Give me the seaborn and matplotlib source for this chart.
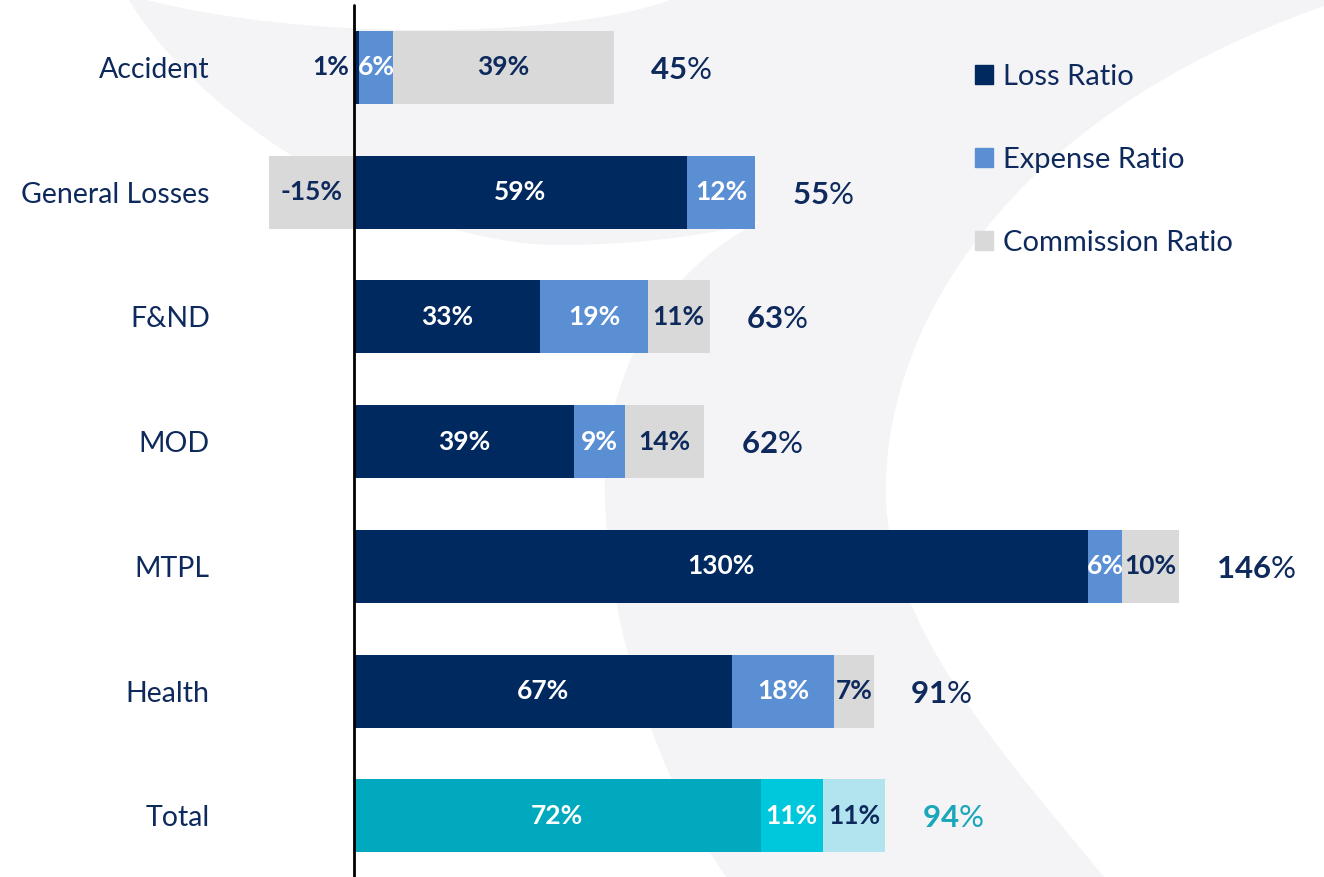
import matplotlib
matplotlib.use("Agg")
import matplotlib.pyplot as plt
import seaborn as sns
import numpy as np
import pandas as pd
from matplotlib.patches import Patch, PathPatch
from matplotlib.path import Path

categories = ["Accident", "General Losses", "F&ND", "MOD", "MTPL", "Health", "Total"]
loss_ratio = [1, 59, 33, 39, 130, 67, 72]
expense_ratio = [6, 12, 19, 9, 6, 18, 11]
commission_ratio = [39, -15, 11, 14, 10, 7, 11]
combined_ratio = [45, 55, 63, 62, 146, 91, 94]

TEXT = "#0e2a5c"
c_loss = ["#002960"] * 6 + ["#00a9bd"]
c_exp = ["#5b8fd4"] * 6 + ["#00c8dc"]
c_com = ["#d9d9d9"] * 6 + ["#b1e4ee"]

sns.set_theme(style="white")
plt.rcParams["font.family"] = ["Lato", "DejaVu Sans"]
plt.rcParams["mathtext.fontset"] = "custom"
plt.rcParams["mathtext.bf"] = "Lato:bold"
plt.rcParams["mathtext.rm"] = "Lato"

W, H = 1324, 877
fig = plt.figure(figsize=(W / 100, H / 100), dpi=100)
fig.patch.set_facecolor("white")

# faint decorative background swoosh (watermark), pixel coords
M, L, C = Path.MOVETO, Path.LINETO, Path.CURVE4
segs = [
    (M, [(129, 0)]),
    (C, [(200, 120), (400, 245), (560, 245)]),
    (C, [(650, 245), (720, 232), (760, 222)]),
    (C, [(660, 270), (600, 380), (605, 500)]),
    (C, [(610, 640), (660, 780), (726, 877)]),
    (L, [(1104, 877)]),
    (C, [(1000, 750), (880, 620), (886, 480)]),
    (C, [(890, 330), (1000, 120), (1324, 6)]),
    (L, [(1324, 0)]),
    (L, [(670, 0)]),
    (C, [(560, 40), (300, 40), (147, 0)]),
    (L, [(129, 0)]),
]
verts, codes = [], []
for code, pts in segs:
    for p in pts:
        verts.append((p[0] / W, 1 - p[1] / H))
        codes.append(code)
swoosh = PathPatch(Path(verts, codes), transform=fig.transFigure,
                   facecolor="#f4f4f6", edgecolor="none", zorder=-5)
fig.patches.append(swoosh)

ax = fig.add_axes([230 / W, 0, 1 - 230 / W, 1])
ax.set_facecolor("none")

loss = np.array(loss_ratio, float)
exp_ = np.array(expense_ratio, float)
com = np.array(commission_ratio, float)
lay2 = loss + exp_
lay3 = np.where(com > 0, lay2 + com, com)

df = pd.DataFrame({"cat": categories, "l1": loss, "l2": lay2, "l3": lay3})
bw = 0.585
for col, pal in [("l3", c_com), ("l2", c_exp), ("l1", c_loss)]:
    sns.barplot(data=df, x=col, y="cat", hue="cat", palette=pal, legend=False,
                orient="h", width=bw, saturation=1, ax=ax, linewidth=0)

ax.set_xlim(-21.9, 171.7)
ax.set_ylim(6.49, -0.54)
ax.axvline(0, ymin=0, ymax=1 - 5 / H, color="black", lw=2, zorder=5)
for s in ax.spines.values():
    s.set_visible(False)
ax.set_xticks([])
ax.set_xlabel("")
ax.set_ylabel("")
ax.tick_params(axis="y", length=0, pad=14.5, labelsize=20.5, labelcolor=TEXT)

fs = 19
for i in range(len(categories)):
    if loss[i] >= 5:
        ax.text(loss[i] / 2, i, f"{loss_ratio[i]}%", ha="center", va="center",
                color="white", fontsize=fs, fontweight="bold", zorder=6)
    else:
        ax.text(-0.8, i, f"{loss_ratio[i]}%", ha="right", va="center",
                color=TEXT, fontsize=fs, fontweight="bold", zorder=6)
    ax.text(loss[i] + exp_[i] / 2, i, f"{expense_ratio[i]}%", ha="center", va="center",
            color="white", fontsize=fs, fontweight="bold", zorder=6)
    cx = lay2[i] + com[i] / 2 if com[i] > 0 else com[i] / 2
    ax.text(cx, i, f"{commission_ratio[i]}%", ha="center", va="center",
            color=TEXT, fontsize=fs, fontweight="bold", zorder=6)
    end = max(lay3[i], lay2[i])
    tc = "#19a7b9" if categories[i] == "Total" else TEXT
    ax.text(end + 6.5, i + 0.02, f"$\\mathbf{{{combined_ratio[i]}}}$%", ha="left", va="center",
            color=tc, fontsize=22.5, zorder=6)

handles = [Patch(color="#002960", label="Loss Ratio"),
           Patch(color="#5b8fd4", label="Expense Ratio"),
           Patch(color="#d9d9d9", label="Commission Ratio")]
leg = fig.legend(handles=handles, loc="upper left", bbox_to_anchor=(975 / W, 1 - 64 / H),
                 frameon=False, fontsize=21, labelspacing=1.95, handlelength=0.62,
                 handleheight=0.62, handletextpad=0.34, borderpad=0, borderaxespad=0,
                 labelcolor=TEXT)

fig.savefig("out.png", dpi=100, facecolor="white")
